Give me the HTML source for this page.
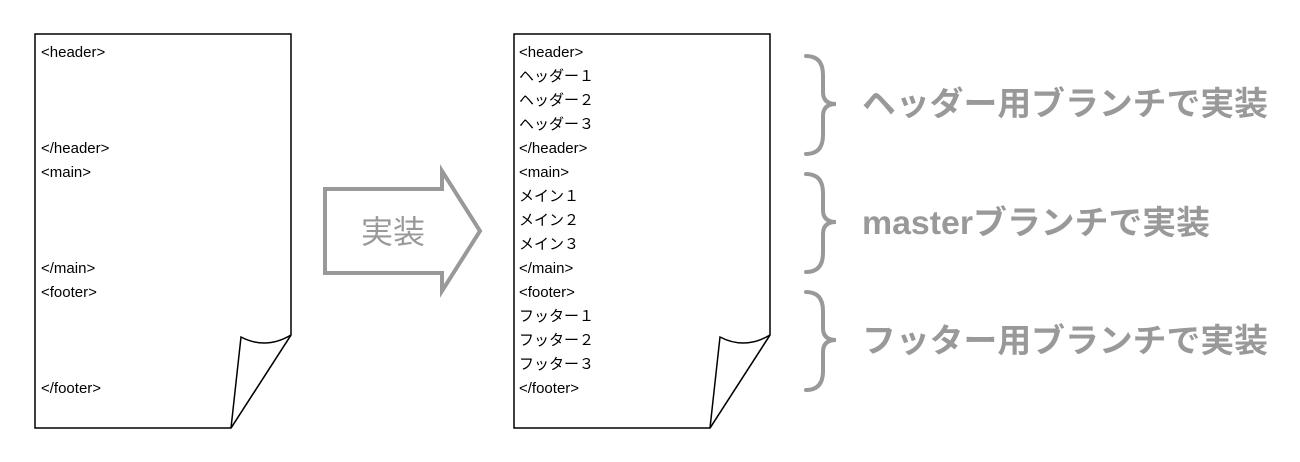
<!DOCTYPE html>
<html><head><meta charset="utf-8"><style>
body{margin:0;background:#fff;width:1300px;height:462px;overflow:hidden;}
svg{display:block}
.t{font-family:"Liberation Sans","Noto Sans CJK JP",sans-serif;font-size:15px;fill:#000}
.g{font-family:"Liberation Sans","Noto Sans CJK JP",sans-serif;font-size:33px;font-weight:bold;fill:#999}
</style></head><body>
<svg width="1300" height="462" xmlns="http://www.w3.org/2000/svg">
<g fill="#fff" stroke="#000" stroke-width="1.5">
<path d="M35 34 H291 V335 L231 428 H35 Z"/>
<path d="M241 337 Q266 350 291 335 L231 428 Z"/>
<path d="M514 34 H770 V335 L710 428 H514 Z"/>
<path d="M720 337 Q745 350 770 335 L710 428 Z"/>
</g>
<g class="t">
<text x="41" y="57">&lt;header&gt;</text>
<text x="41" y="153">&lt;/header&gt;</text>
<text x="41" y="177">&lt;main&gt;</text>
<text x="41" y="273">&lt;/main&gt;</text>
<text x="41" y="297">&lt;footer&gt;</text>
<text x="41" y="393">&lt;/footer&gt;</text>
</g>
<g class="t">
<text x="519" y="57">&lt;header&gt;</text>
<text x="519" y="81">ヘッダー１</text>
<text x="519" y="105">ヘッダー２</text>
<text x="519" y="129">ヘッダー３</text>
<text x="519" y="153">&lt;/header&gt;</text>
<text x="519" y="177">&lt;main&gt;</text>
<text x="519" y="201">メイン１</text>
<text x="519" y="225">メイン２</text>
<text x="519" y="249">メイン３</text>
<text x="519" y="273">&lt;/main&gt;</text>
<text x="519" y="297">&lt;footer&gt;</text>
<text x="519" y="321">フッター１</text>
<text x="519" y="345">フッター２</text>
<text x="519" y="369">フッター３</text>
<text x="519" y="393">&lt;/footer&gt;</text>
</g>
<path d="M325 189 H442 V171 L480 231 L442 291 V273 H325 Z" fill="none" stroke="#999" stroke-width="4"/>
<text x="393" y="243" text-anchor="middle" style="font-family:'Liberation Sans','Noto Sans CJK JP',sans-serif;font-size:32px;fill:#999">実装</text>
<g fill="none" stroke="#999" stroke-width="4" stroke-linecap="round">
<path d="M806 56 Q823 56 823 75 V92 Q823 104 836 104 Q823 104 823 116 V135 Q823 154 806 154"/>
<path d="M806 174 Q823 174 823 193 V210 Q823 222 836 222 Q823 222 823 234 V253 Q823 272 806 272"/>
<path d="M806 292 Q823 292 823 311 V328 Q823 340 836 340 Q823 340 823 352 V371 Q823 390 806 390"/>
</g>
<text class="g" x="862" y="115" textLength="406" lengthAdjust="spacingAndGlyphs">ヘッダー用ブランチで実装</text>
<text class="g" x="862" y="234" textLength="348" lengthAdjust="spacingAndGlyphs">masterブランチで実装</text>
<text class="g" x="862" y="352" textLength="406" lengthAdjust="spacingAndGlyphs">フッター用ブランチで実装</text>
</svg>
</body></html>
